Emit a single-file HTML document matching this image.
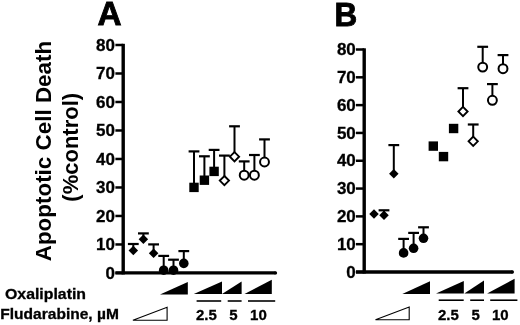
<!DOCTYPE html>
<html><head><meta charset="utf-8"><style>
html,body{margin:0;padding:0;background:#fff;}
body{width:520px;height:325px;overflow:hidden;}
svg{display:block;will-change:transform;}
text{font-family:"Liberation Sans",sans-serif;font-weight:bold;}
</style></head><body>
<svg width="520" height="325" viewBox="0 0 520 325">
<text x="97.4" y="25.3" font-weight="bold" font-size="33.3" stroke="#000" stroke-width="0.9">A</text>
<line x1="123.2" y1="43.8" x2="123.2" y2="274.45" stroke="#000" stroke-width="3.4"/>
<line x1="115.4" y1="272.95" x2="275.5" y2="272.95" stroke="#000" stroke-width="3.3"/>
<circle cx="275.5" cy="272.95" r="1.65" fill="#000"/>
<line x1="115.4" y1="272.95" x2="123.2" y2="272.95" stroke="#000" stroke-width="2.5"/>
<text x="114.9" y="278.55" font-weight="bold" stroke="#000" stroke-width="0.3" font-size="17" text-anchor="end">0</text>
<line x1="115.4" y1="244.46" x2="123.2" y2="244.46" stroke="#000" stroke-width="2.5"/>
<text x="114.9" y="250.06" font-weight="bold" stroke="#000" stroke-width="0.3" font-size="17" text-anchor="end">10</text>
<line x1="115.4" y1="215.96" x2="123.2" y2="215.96" stroke="#000" stroke-width="2.5"/>
<text x="114.9" y="221.56" font-weight="bold" stroke="#000" stroke-width="0.3" font-size="17" text-anchor="end">20</text>
<line x1="115.4" y1="187.47" x2="123.2" y2="187.47" stroke="#000" stroke-width="2.5"/>
<text x="114.9" y="193.07" font-weight="bold" stroke="#000" stroke-width="0.3" font-size="17" text-anchor="end">30</text>
<line x1="115.4" y1="158.97" x2="123.2" y2="158.97" stroke="#000" stroke-width="2.5"/>
<text x="114.9" y="164.57" font-weight="bold" stroke="#000" stroke-width="0.3" font-size="17" text-anchor="end">40</text>
<line x1="115.4" y1="130.48" x2="123.2" y2="130.48" stroke="#000" stroke-width="2.5"/>
<text x="114.9" y="136.08" font-weight="bold" stroke="#000" stroke-width="0.3" font-size="17" text-anchor="end">50</text>
<line x1="115.4" y1="101.99" x2="123.2" y2="101.99" stroke="#000" stroke-width="2.5"/>
<text x="114.9" y="107.59" font-weight="bold" stroke="#000" stroke-width="0.3" font-size="17" text-anchor="end">60</text>
<line x1="115.4" y1="73.49" x2="123.2" y2="73.49" stroke="#000" stroke-width="2.5"/>
<text x="114.9" y="79.09" font-weight="bold" stroke="#000" stroke-width="0.3" font-size="17" text-anchor="end">70</text>
<line x1="115.4" y1="45.00" x2="123.2" y2="45.00" stroke="#000" stroke-width="2.5"/>
<text x="114.9" y="50.60" font-weight="bold" stroke="#000" stroke-width="0.3" font-size="17" text-anchor="end">80</text>
<text x="334.5" y="25.9" font-weight="bold" font-size="33.3" stroke="#000" stroke-width="0.9" textLength="22.7" lengthAdjust="spacingAndGlyphs">B</text>
<line x1="364.2" y1="48.3" x2="364.2" y2="273.5" stroke="#000" stroke-width="3.4"/>
<line x1="355.9" y1="272.0" x2="512.4" y2="272.0" stroke="#000" stroke-width="3.3"/>
<circle cx="512.4" cy="272.0" r="1.65" fill="#000"/>
<line x1="355.9" y1="272.00" x2="364.2" y2="272.00" stroke="#000" stroke-width="2.5"/>
<text x="355.8" y="277.60" font-weight="bold" stroke="#000" stroke-width="0.3" font-size="17" text-anchor="end">0</text>
<line x1="355.9" y1="244.19" x2="364.2" y2="244.19" stroke="#000" stroke-width="2.5"/>
<text x="355.8" y="249.79" font-weight="bold" stroke="#000" stroke-width="0.3" font-size="17" text-anchor="end">10</text>
<line x1="355.9" y1="216.38" x2="364.2" y2="216.38" stroke="#000" stroke-width="2.5"/>
<text x="355.8" y="221.97" font-weight="bold" stroke="#000" stroke-width="0.3" font-size="17" text-anchor="end">20</text>
<line x1="355.9" y1="188.56" x2="364.2" y2="188.56" stroke="#000" stroke-width="2.5"/>
<text x="355.8" y="194.16" font-weight="bold" stroke="#000" stroke-width="0.3" font-size="17" text-anchor="end">30</text>
<line x1="355.9" y1="160.75" x2="364.2" y2="160.75" stroke="#000" stroke-width="2.5"/>
<text x="355.8" y="166.35" font-weight="bold" stroke="#000" stroke-width="0.3" font-size="17" text-anchor="end">40</text>
<line x1="355.9" y1="132.94" x2="364.2" y2="132.94" stroke="#000" stroke-width="2.5"/>
<text x="355.8" y="138.54" font-weight="bold" stroke="#000" stroke-width="0.3" font-size="17" text-anchor="end">50</text>
<line x1="355.9" y1="105.12" x2="364.2" y2="105.12" stroke="#000" stroke-width="2.5"/>
<text x="355.8" y="110.72" font-weight="bold" stroke="#000" stroke-width="0.3" font-size="17" text-anchor="end">60</text>
<line x1="355.9" y1="77.31" x2="364.2" y2="77.31" stroke="#000" stroke-width="2.5"/>
<text x="355.8" y="82.91" font-weight="bold" stroke="#000" stroke-width="0.3" font-size="17" text-anchor="end">70</text>
<line x1="355.9" y1="49.50" x2="364.2" y2="49.50" stroke="#000" stroke-width="2.5"/>
<text x="355.8" y="55.10" font-weight="bold" stroke="#000" stroke-width="0.3" font-size="17" text-anchor="end">80</text>
<line x1="133.3" y1="244.0" x2="133.3" y2="250.4" stroke="#000" stroke-width="2"/><line x1="127.9" y1="244.0" x2="138.70000000000002" y2="244.0" stroke="#000" stroke-width="2.2"/>
<line x1="143.4" y1="233.4" x2="143.4" y2="239.3" stroke="#000" stroke-width="2"/><line x1="138.0" y1="233.4" x2="148.8" y2="233.4" stroke="#000" stroke-width="2.2"/>
<line x1="153.6" y1="244.4" x2="153.6" y2="253.3" stroke="#000" stroke-width="2"/><line x1="148.2" y1="244.4" x2="159.0" y2="244.4" stroke="#000" stroke-width="2.2"/>
<line x1="163.7" y1="255.9" x2="163.7" y2="270.2" stroke="#000" stroke-width="2"/><line x1="158.29999999999998" y1="255.9" x2="169.1" y2="255.9" stroke="#000" stroke-width="2.2"/>
<line x1="173.5" y1="259.7" x2="173.5" y2="270.2" stroke="#000" stroke-width="2"/><line x1="168.1" y1="259.7" x2="178.9" y2="259.7" stroke="#000" stroke-width="2.2"/>
<line x1="183.8" y1="251.1" x2="183.8" y2="263.4" stroke="#000" stroke-width="2"/><line x1="178.4" y1="251.1" x2="189.20000000000002" y2="251.1" stroke="#000" stroke-width="2.2"/>
<line x1="194.0" y1="151.4" x2="194.0" y2="187.4" stroke="#000" stroke-width="2"/><line x1="188.6" y1="151.4" x2="199.4" y2="151.4" stroke="#000" stroke-width="2.2"/>
<line x1="204.4" y1="156.3" x2="204.4" y2="180.20000000000002" stroke="#000" stroke-width="2"/><line x1="199.0" y1="156.3" x2="209.8" y2="156.3" stroke="#000" stroke-width="2.2"/>
<line x1="214.1" y1="149.9" x2="214.1" y2="171.4" stroke="#000" stroke-width="2"/><line x1="208.7" y1="149.9" x2="219.5" y2="149.9" stroke="#000" stroke-width="2.2"/>
<line x1="224.4" y1="155.6" x2="224.4" y2="180.6" stroke="#000" stroke-width="2"/><line x1="219.0" y1="155.6" x2="229.8" y2="155.6" stroke="#000" stroke-width="2.2"/>
<line x1="234.5" y1="126.30000000000001" x2="234.5" y2="156.70000000000002" stroke="#000" stroke-width="2"/><line x1="229.1" y1="126.30000000000001" x2="239.9" y2="126.30000000000001" stroke="#000" stroke-width="2.2"/>
<line x1="244.2" y1="161.4" x2="244.2" y2="175.20000000000002" stroke="#000" stroke-width="2"/><line x1="238.79999999999998" y1="161.4" x2="249.6" y2="161.4" stroke="#000" stroke-width="2.2"/>
<line x1="254.4" y1="155.0" x2="254.4" y2="175.20000000000002" stroke="#000" stroke-width="2"/><line x1="249.0" y1="155.0" x2="259.8" y2="155.0" stroke="#000" stroke-width="2.2"/>
<line x1="264.5" y1="139.4" x2="264.5" y2="162.0" stroke="#000" stroke-width="2"/><line x1="259.1" y1="139.4" x2="269.9" y2="139.4" stroke="#000" stroke-width="2.2"/>
<polygon points="133.3,245.65 138.05,250.4 133.3,255.15 128.55,250.4" fill="#000"/>
<polygon points="143.4,234.55 148.15,239.3 143.4,244.05 138.65,239.3" fill="#000"/>
<polygon points="153.6,248.55 158.35,253.3 153.6,258.05 148.85,253.3" fill="#000"/>
<circle cx="163.7" cy="270.2" r="4.8" fill="#000"/>
<circle cx="173.5" cy="270.2" r="4.8" fill="#000"/>
<circle cx="183.8" cy="263.4" r="4.8" fill="#000"/>
<rect x="189.30" y="182.70" width="9.4" height="9.4" fill="#000"/>
<rect x="199.70" y="175.50" width="9.4" height="9.4" fill="#000"/>
<rect x="209.40" y="166.70" width="9.4" height="9.4" fill="#000"/>
<polygon points="224.4,176.0 229.0,180.6 224.4,185.2 219.8,180.6" fill="#fff" stroke="#000" stroke-width="1.9"/>
<polygon points="234.5,152.10000000000002 239.1,156.70000000000002 234.5,161.3 229.9,156.70000000000002" fill="#fff" stroke="#000" stroke-width="1.9"/>
<circle cx="244.2" cy="175.20000000000002" r="4.45" fill="#fff" stroke="#000" stroke-width="2"/>
<circle cx="254.4" cy="175.20000000000002" r="4.45" fill="#fff" stroke="#000" stroke-width="2"/>
<circle cx="264.5" cy="162.0" r="4.45" fill="#fff" stroke="#000" stroke-width="2"/>
<line x1="384.0" y1="210.3" x2="384.0" y2="215.3" stroke="#000" stroke-width="2"/><line x1="378.6" y1="210.3" x2="389.4" y2="210.3" stroke="#000" stroke-width="2.2"/>
<line x1="393.8" y1="145.10000000000002" x2="393.8" y2="173.70000000000002" stroke="#000" stroke-width="2"/><line x1="388.40000000000003" y1="145.10000000000002" x2="399.2" y2="145.10000000000002" stroke="#000" stroke-width="2.2"/>
<line x1="403.6" y1="238.9" x2="403.6" y2="252.9" stroke="#000" stroke-width="2"/><line x1="398.20000000000005" y1="238.9" x2="409.0" y2="238.9" stroke="#000" stroke-width="2.2"/>
<line x1="413.6" y1="232.9" x2="413.6" y2="248.3" stroke="#000" stroke-width="2"/><line x1="408.20000000000005" y1="232.9" x2="419.0" y2="232.9" stroke="#000" stroke-width="2.2"/>
<line x1="423.5" y1="227.3" x2="423.5" y2="238.3" stroke="#000" stroke-width="2"/><line x1="418.1" y1="227.3" x2="428.9" y2="227.3" stroke="#000" stroke-width="2.2"/>
<line x1="463.0" y1="88.2" x2="463.0" y2="111.5" stroke="#000" stroke-width="2"/><line x1="457.6" y1="88.2" x2="468.4" y2="88.2" stroke="#000" stroke-width="2.2"/>
<line x1="473.2" y1="124.5" x2="473.2" y2="141.3" stroke="#000" stroke-width="2"/><line x1="467.8" y1="124.5" x2="478.59999999999997" y2="124.5" stroke="#000" stroke-width="2.2"/>
<line x1="482.7" y1="46.8" x2="482.7" y2="67.1" stroke="#000" stroke-width="2"/><line x1="477.3" y1="46.8" x2="488.09999999999997" y2="46.8" stroke="#000" stroke-width="2.2"/>
<line x1="492.4" y1="84.1" x2="492.4" y2="100.3" stroke="#000" stroke-width="2"/><line x1="487.0" y1="84.1" x2="497.79999999999995" y2="84.1" stroke="#000" stroke-width="2.2"/>
<line x1="503.0" y1="55.099999999999994" x2="503.0" y2="68.7" stroke="#000" stroke-width="2"/><line x1="497.6" y1="55.099999999999994" x2="508.4" y2="55.099999999999994" stroke="#000" stroke-width="2.2"/>
<polygon points="374.0,209.15 378.75,213.9 374.0,218.65 369.25,213.9" fill="#000"/>
<polygon points="384.0,210.55 388.75,215.3 384.0,220.05 379.25,215.3" fill="#000"/>
<polygon points="393.8,168.95000000000002 398.55,173.70000000000002 393.8,178.45000000000002 389.05,173.70000000000002" fill="#000"/>
<circle cx="403.6" cy="252.9" r="4.8" fill="#000"/>
<circle cx="413.6" cy="248.3" r="4.8" fill="#000"/>
<circle cx="423.5" cy="238.3" r="4.8" fill="#000"/>
<rect x="428.60" y="141.40" width="9.4" height="9.4" fill="#000"/>
<rect x="438.80" y="151.90" width="9.4" height="9.4" fill="#000"/>
<rect x="448.90" y="123.80" width="9.4" height="9.4" fill="#000"/>
<polygon points="463.0,106.9 467.6,111.5 463.0,116.1 458.4,111.5" fill="#fff" stroke="#000" stroke-width="1.9"/>
<polygon points="473.2,136.70000000000002 477.8,141.3 473.2,145.9 468.59999999999997,141.3" fill="#fff" stroke="#000" stroke-width="1.9"/>
<circle cx="482.7" cy="67.1" r="4.45" fill="#fff" stroke="#000" stroke-width="2"/>
<circle cx="492.4" cy="100.3" r="4.45" fill="#fff" stroke="#000" stroke-width="2"/>
<circle cx="503.0" cy="68.7" r="4.45" fill="#fff" stroke="#000" stroke-width="2"/>
<polygon points="160.0,294.5 187.8,294.5 187.8,281.9" fill="#000"/>
<polygon points="193.8,293.9 222.0,293.9 222.0,281.6" fill="#000"/>
<polygon points="222.0,293.9 241.6,293.9 241.6,281.6" fill="#000"/>
<polygon points="244.5,293.9 271.8,293.9 271.8,279.8" fill="#000"/>
<polygon points="402.3,294.0 430.0,294.0 430.0,281.2" fill="#000"/>
<polygon points="436.0,293.6 463.8,293.6 463.8,281.0" fill="#000"/>
<polygon points="464.3,293.6 484.0,293.6 484.0,280.5" fill="#000"/>
<polygon points="487.1,293.6 514.6,293.6 514.6,278.8" fill="#000"/>
<polygon points="132.9,320.2 167.1,320.2 167.1,307.3" fill="none" stroke="#000" stroke-width="1.1"/>
<polygon points="375.5,319.7 409.2,319.7 409.2,307.0" fill="none" stroke="#000" stroke-width="1.1"/>
<line x1="196.6" y1="301.0" x2="221.2" y2="301.0" stroke="#000" stroke-width="1.6"/>
<line x1="227.7" y1="301.0" x2="241.6" y2="301.0" stroke="#000" stroke-width="1.6"/>
<line x1="248.0" y1="301.0" x2="275.2" y2="301.0" stroke="#000" stroke-width="1.6"/>
<line x1="438.7" y1="300.2" x2="463.7" y2="300.2" stroke="#000" stroke-width="1.6"/>
<line x1="470.2" y1="300.2" x2="484.0" y2="300.2" stroke="#000" stroke-width="1.6"/>
<line x1="490.2" y1="300.2" x2="517.4" y2="300.2" stroke="#000" stroke-width="1.6"/>
<text x="206.4" y="319.7" font-weight="bold" stroke="#000" stroke-width="0.3" font-size="15" text-anchor="middle">2.5</text>
<text x="233.3" y="319.7" font-weight="bold" stroke="#000" stroke-width="0.3" font-size="15" text-anchor="middle">5</text>
<text x="258.4" y="319.7" font-weight="bold" stroke="#000" stroke-width="0.3" font-size="15" text-anchor="middle">10</text>
<text x="448.4" y="319.7" font-weight="bold" stroke="#000" stroke-width="0.3" font-size="15" text-anchor="middle">2.5</text>
<text x="475.6" y="319.7" font-weight="bold" stroke="#000" stroke-width="0.3" font-size="15" text-anchor="middle">5</text>
<text x="500.3" y="319.7" font-weight="bold" stroke="#000" stroke-width="0.3" font-size="15" text-anchor="middle">10</text>
<text x="5.0" y="299.4" font-weight="bold" stroke="#000" stroke-width="0.3" font-size="14.8" textLength="81.0" lengthAdjust="spacingAndGlyphs">Oxaliplatin</text>
<text x="0.3" y="319.3" font-weight="bold" stroke="#000" stroke-width="0.3" font-size="14.8" textLength="118.6" lengthAdjust="spacingAndGlyphs">Fludarabine, µM</text>
<text transform="translate(51.2,151.05) rotate(-90)" font-weight="bold" font-size="22" text-anchor="middle" textLength="220.5" lengthAdjust="spacingAndGlyphs">Apoptotic Cell Death</text>
<text transform="translate(77.8,147.3) rotate(-90)" font-weight="bold" font-size="22" text-anchor="middle">(%control)</text>
</svg>
</body></html>
